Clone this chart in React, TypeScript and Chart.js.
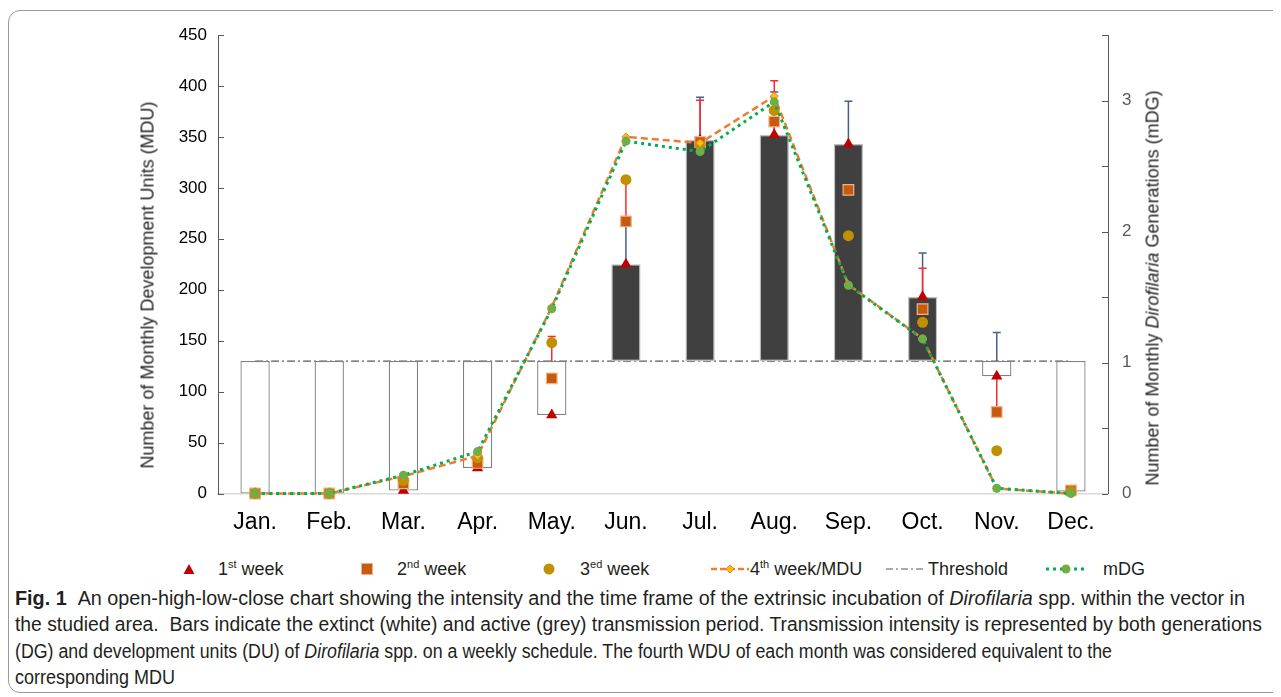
import React, { useEffect, useLayoutEffect, useRef } from 'react';
import { Chart, registerables } from 'chart.js';

Chart.register(...registerables);

// ---------- data ----------
const months = ['Jan.', 'Feb.', 'Mar.', 'Apr.', 'May.', 'Jun.', 'Jul.', 'Aug.', 'Sep.', 'Oct.', 'Nov.', 'Dec.'];
const threshold = 130;
const week1 = [0, 0, 3, 25, 77, 225, 347, 352, 343, 193, 115, 2];
const week2 = [0, 0, 10, 30, 113, 267, 345, 365, 298, 181, 80, 3];
const week3 = [0, 0, 13, 35, 148, 308, 342, 376, 253, 168, 42, 2];
const week4MDU = [0, 0, 17, 37, 183, 350, 344, 390, 205, 152, 5, 0];
const mDG = [0, 0, 0.14, 0.32, 1.41, 2.69, 2.61, 2.99, 1.59, 1.18, 0.04, 0];

// high-low lines (blue and red)
const blueLow = [null, null, null, null, null, 225, 347, 352, 343, 193, 130, null];
const blueHigh = [null, null, null, null, null, 266, 389, 394, 385, 236, 158, null];
const blueCapped = [false, false, false, false, false, false, true, true, true, true, true, false];
const redLow = [null, null, null, null, 130, 266, 347, 352, null, 193, 80, null];
const redHigh = [null, null, null, null, 154, 308, 386, 405, null, 221, 115, null];
const redCapped = [false, false, false, false, true, false, true, true, false, true, false, false];

const leftTicksMax = 450;
const rightTicksMax = 3.5;

const FONT = '"Liberation Sans", Arial, Helvetica, sans-serif';

const hiLoPlugin = {
  id: 'hiLo',
  afterDatasetDraw(chart: any, args: any) {
    const ds = chart.data.datasets[args.index];
    if (!ds || ds.type !== 'bar') return;
    const ctx = chart.ctx;
    const xs = chart.scales.x;
    const ys = chart.scales.y;
    const draw = (lows: any[], highs: any[], caps: boolean[], color: string) => {
      ctx.save();
      ctx.strokeStyle = color;
      ctx.lineWidth = 1.5;
      for (let i = 0; i < lows.length; i++) {
        if (lows[i] == null || highs[i] == null) continue;
        const px = xs.getPixelForValue(i);
        const y1 = ys.getPixelForValue(lows[i]);
        const y2 = ys.getPixelForValue(highs[i]);
        ctx.beginPath();
        ctx.moveTo(px, y1);
        ctx.lineTo(px, y2);
        if (caps[i]) {
          ctx.moveTo(px - 4, y2);
          ctx.lineTo(px + 4, y2);
        }
        ctx.stroke();
      }
      ctx.restore();
    };
    draw(blueLow, blueHigh, blueCapped, '#4A5C92');
    draw(redLow, redHigh, redCapped, '#FF2A2A');
  },
};

const inwardTicksPlugin = {
  id: 'inwardTicks',
  afterDraw(chart: any) {
    const ctx = chart.ctx;
    const { left, right } = chart.chartArea;
    ctx.save();
    ctx.strokeStyle = '#595959';
    ctx.lineWidth = 1;
    const y = chart.scales.y;
    y.ticks.forEach((t: any) => {
      const py = Math.round(y.getPixelForValue(t.value)) + 0.5;
      ctx.beginPath();
      ctx.moveTo(left, py);
      ctx.lineTo(left + 6, py);
      ctx.stroke();
    });
    const y1 = chart.scales.y1;
    y1.ticks.forEach((t: any) => {
      const py = Math.round(y1.getPixelForValue(t.value)) + 0.5;
      ctx.beginPath();
      ctx.moveTo(right, py);
      ctx.lineTo(right - 6, py);
      ctx.stroke();
    });
    ctx.restore();
  },
};

function ChartCanvas() {
  const ref = useRef<HTMLCanvasElement | null>(null);
  useEffect(() => {
    if (!ref.current) return;
    Chart.defaults.font.family = FONT;
    const chart = new Chart(ref.current, {
      type: 'bar',
      data: {
        labels: months,
        datasets: [
          {
            type: 'line',
            label: 'mDG',
            data: mDG,
            yAxisID: 'y1',
            borderColor: '#00B050',
            borderWidth: 3,
            borderDash: [3, 4],
            pointStyle: 'circle',
            pointRadius: 4.5,
            pointBackgroundColor: '#70AD47',
            pointBorderColor: '#70AD47',
            pointBorderWidth: 0,
            tension: 0,
            clip: false,
            order: 1,
          } as any,
          {
            type: 'line',
            label: '4th week/MDU',
            data: week4MDU,
            yAxisID: 'y',
            borderColor: '#ED7D31',
            borderWidth: 2.5,
            borderDash: [7, 4],
            pointStyle: 'rectRot',
            pointRadius: 4,
            pointBackgroundColor: '#FFC000',
            pointBorderColor: '#ED7D31',
            pointBorderWidth: 1,
            tension: 0,
            clip: false,
            order: 2,
          } as any,
          {
            type: 'line',
            label: '3ed week',
            data: week3,
            yAxisID: 'y',
            showLine: false,
            pointStyle: 'circle',
            pointRadius: 5.5,
            pointBackgroundColor: '#BF9000',
            pointBorderColor: '#BF9000',
            pointBorderWidth: 0,
            clip: false,
            order: 3,
          } as any,
          {
            type: 'line',
            label: '2nd week',
            data: week2,
            yAxisID: 'y',
            showLine: false,
            pointStyle: 'rect',
            pointRadius: 7.5,
            pointBackgroundColor: '#C55A11',
            pointBorderColor: '#F4B183',
            pointBorderWidth: 1.2,
            clip: false,
            order: 4,
          } as any,
          {
            type: 'line',
            label: '1st week',
            data: week1,
            yAxisID: 'y',
            showLine: false,
            pointStyle: 'triangle',
            pointRadius: 6.5,
            pointBackgroundColor: '#C00000',
            pointBorderColor: '#C00000',
            pointBorderWidth: 0,
            clip: false,
            order: 5,
          } as any,
          {
            type: 'bar',
            label: 'bars',
            data: week1.map((v) => [Math.min(v, threshold), Math.max(v, threshold)]),
            yAxisID: 'y',
            backgroundColor: week1.map((v) => (v > threshold ? '#404040' : '#FFFFFF')),
            borderColor: week1.map((v) => (v > threshold ? '#BFBFBF' : '#808080')),
            borderWidth: 1.3,
            borderSkipped: false,
            barPercentage: 0.395,
            categoryPercentage: 1,
            order: 6,
          } as any,
          {
            type: 'line',
            label: 'Threshold',
            data: months.map(() => threshold),
            yAxisID: 'y',
            borderColor: '#595959',
            borderWidth: 1.2,
            borderDash: [8, 3, 2, 3],
            pointRadius: 0,
            order: 7,
          } as any,
        ],
      },
      options: {
        animation: false,
        responsive: false,
        devicePixelRatio: 1,
        layout: { padding: { left: 125, top: 27, right: 0, bottom: 0 } },
        plugins: { legend: { display: false }, tooltip: { enabled: false } },
        scales: {
          x: {
            type: 'category',
            offset: true,
            grid: { display: false, drawTicks: false },
            border: { display: true, color: '#D9D9D9', width: 1.5 },
            ticks: { color: '#000000', font: { size: 23 }, padding: 15, maxRotation: 0, autoSkip: false },
            afterFit: (s: any) => {
              s.height = 59.5;
            },
          },
          y: {
            type: 'linear',
            position: 'left',
            min: 0,
            max: leftTicksMax,
            grid: { display: false, drawTicks: false },
            border: { display: true, color: '#595959', width: 1 },
            ticks: { stepSize: 50, color: '#000000', font: { size: 17 }, padding: 11 },
            afterFit: (s: any) => {
              s.width = 85;
            },
          },
          y1: {
            type: 'linear',
            position: 'right',
            min: 0,
            max: rightTicksMax,
            grid: { display: false, drawTicks: false },
            border: { display: true, color: '#595959', width: 1 },
            ticks: {
              stepSize: 0.5,
              color: '#595959',
              font: { size: 17 },
              padding: 14,
              callback: (v: any) => (Math.abs(v - Math.round(v)) < 1e-6 ? String(Math.round(v)) : ''),
            },
            afterFit: (s: any) => {
              s.width = 173;
            },
          },
        },
      } as any,
      plugins: [hiLoPlugin, inwardTicksPlugin],
    });
    return () => chart.destroy();
  }, []);
  return <canvas ref={ref} width={1273} height={545} style={{ position: 'absolute', left: 0, top: 0 }} />;
}

const legendText: React.CSSProperties = {
  position: 'absolute',
  top: 561,
  transform: 'translateY(-50%)',
  fontFamily: FONT,
  fontSize: 18,
  color: '#231F20',
  whiteSpace: 'nowrap',
  lineHeight: '20px',
};
const sup: React.CSSProperties = { fontSize: 11, verticalAlign: 'super', lineHeight: 0 };

function Sym({ x, w, h, children }: { x: number; w: number; h: number; children: React.ReactNode }) {
  return (
    <svg
      width={w}
      height={h}
      style={{ position: 'absolute', left: x - w / 2, top: 561 - h / 2 }}
      viewBox={`0 0 ${w} ${h}`}
    >
      {children}
    </svg>
  );
}

function Legend() {
  return (
    <>
      <Sym x={181} w={12} h={12}>
        <polygon points="6,1 11.5,11 0.5,11" fill="#C00000" />
      </Sym>
      <div style={{ ...legendText, left: 210 }}>
        1<span style={sup}>st</span> week
      </div>
      <Sym x={359} w={12} h={12}>
        <rect x={0.5} y={0.5} width={11} height={11} fill="#C55A11" stroke="#F4B183" strokeWidth={1} />
      </Sym>
      <div style={{ ...legendText, left: 389 }}>
        2<span style={sup}>nd</span> week
      </div>
      <Sym x={541} w={12} h={12}>
        <circle cx={6} cy={6} r={5.5} fill="#BF9000" />
      </Sym>
      <div style={{ ...legendText, left: 572 }}>
        3<span style={sup}>ed</span> week
      </div>
      <Sym x={722} w={38} h={12}>
        <line x1={0} y1={6} x2={38} y2={6} stroke="#ED7D31" strokeWidth={2.5} strokeDasharray="6 3" />
        <polygon points="19,2 23,6 19,10 15,6" fill="#FFC000" stroke="#ED7D31" strokeWidth={1} />
      </Sym>
      <div style={{ ...legendText, left: 742 }}>
        4<span style={sup}>th</span> week/MDU
      </div>
      <Sym x={897} w={38} h={12}>
        <line x1={0} y1={6} x2={38} y2={6} stroke="#595959" strokeWidth={1.2} strokeDasharray="7 3 2 3" />
      </Sym>
      <div style={{ ...legendText, left: 920 }}>Threshold</div>
      <Sym x={1058} w={40} h={12}>
        <line x1={0} y1={6} x2={40} y2={6} stroke="#00B050" strokeWidth={3} strokeDasharray="3 4" />
        <circle cx={20} cy={6} r={4.5} fill="#70AD47" />
      </Sym>
      <div style={{ ...legendText, left: 1095 }}>mDG</div>
    </>
  );
}

const captionLineWidths = [1230, 1247, 1097, 160];

function Caption() {
  const boxRef = useRef<HTMLDivElement | null>(null);
  useLayoutEffect(() => {
    const box = boxRef.current;
    if (!box) return;
    const lines = Array.from(box.querySelectorAll('[data-line]')) as HTMLElement[];
    lines.forEach((l, i) => {
      const w = l.getBoundingClientRect().width;
      const k = captionLineWidths[i] / w;
      l.style.transform = `scaleX(${k})`;
    });
  }, []);
  const lineStyle: React.CSSProperties = {
    display: 'inline-block',
    whiteSpace: 'nowrap',
    transformOrigin: '0 50%',
  };
  const row: React.CSSProperties = { height: 26.3, lineHeight: '26.3px' };
  return (
    <div
      ref={boxRef}
      style={{
        position: 'absolute',
        left: 7,
        top: 577,
        fontFamily: FONT,
        fontSize: 20,
        color: '#231F20',
      }}
    >
      <div style={row}>
        <span data-line="1" style={lineStyle}>
          <b>Fig. 1</b>&nbsp;&nbsp;An open-high-low-close chart showing the intensity and the time frame of the extrinsic
          incubation of <i>Dirofilaria</i> spp. within the vector in
        </span>
      </div>
      <div style={row}>
        <span data-line="2" style={lineStyle}>
          the studied area.&nbsp; Bars indicate the extinct (white) and active (grey) transmission period. Transmission
          intensity is represented by both generations
        </span>
      </div>
      <div style={row}>
        <span data-line="3" style={lineStyle}>
          (DG) and development units (DU) of <i>Dirofilaria</i> spp. on a weekly schedule. The fourth WDU of each month
          was considered equivalent to the
        </span>
      </div>
      <div style={row}>
        <span data-line="4" style={lineStyle}>
          corresponding MDU
        </span>
      </div>
    </div>
  );
}

const axisTitle: React.CSSProperties = {
  position: 'absolute',
  transform: 'translate(-50%, -50%) rotate(-90deg)',
  fontFamily: FONT,
  fontSize: 18,
  color: '#262626',
  whiteSpace: 'nowrap',
};

export default function App() {
  return (
    <div style={{ position: 'relative', width: 1273, height: 689, overflow: 'hidden' }}>
      <div
        style={{
          position: 'absolute',
          left: 0,
          top: 2,
          width: 1300,
          height: 683,
          border: '1px solid #9A9A9A',
          borderRadius: 12,
          boxSizing: 'border-box',
        }}
      />
      <ChartCanvas />
      <div style={{ ...axisTitle, left: 140, top: 277 }}>Number of Monthly Development Units (MDU)</div>
      <div style={{ ...axisTitle, left: 1145, top: 280 }}>
        Number of Monthly <i>Dirofilaria</i> Generations (mDG)
      </div>
      <Legend />
      <Caption />
    </div>
  );
}
